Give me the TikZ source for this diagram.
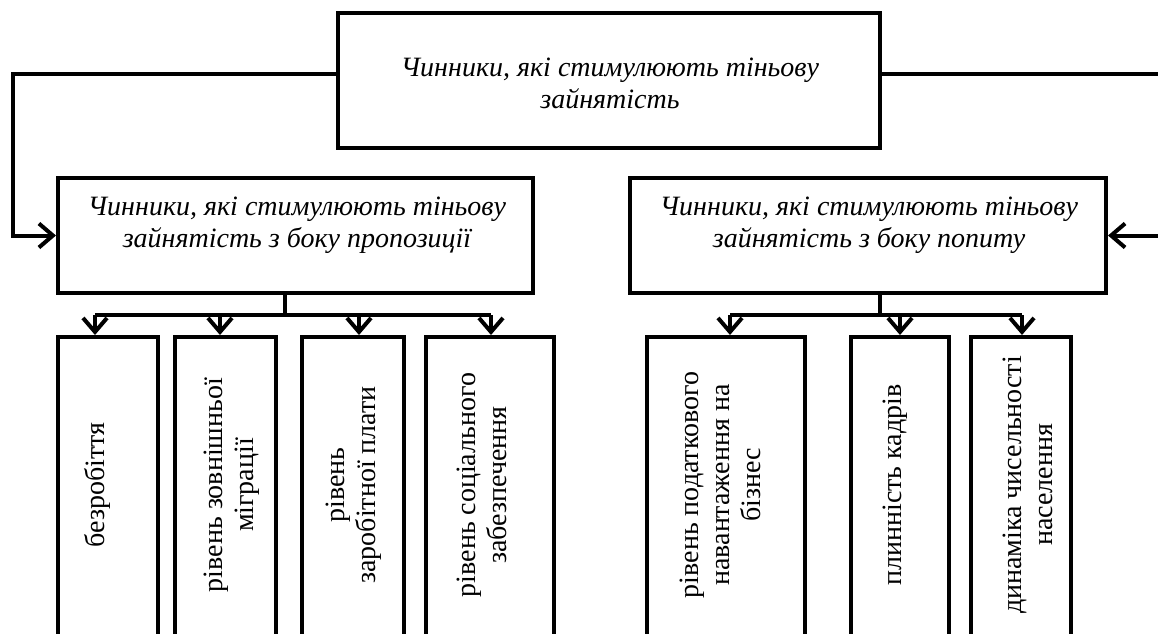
\documentclass[tikz,border=0pt]{standalone}
\usepackage{fontspec}
\setmainfont{Liberation Serif}
\usetikzlibrary{arrows.meta,calc}
\begin{document}
\begin{tikzpicture}[x=1pt,y=-1pt, line width=4pt,
  box/.style={draw, rectangle, inner sep=0pt, line width=4pt},
  lbl/.style={font=\fontsize{28}{31}\selectfont, align=center, inner sep=0pt},
  ilbl/.style={align=center, inner sep=0pt, font=\fontsize{28}{32}\selectfont\itshape},
  vlbl/.style={lbl, rotate=90},
  arr/.style={-{Straight Barb[length=14pt,width=24pt]}}]
\useasboundingbox (0,0) rectangle (1158,633);
\clip (0,0) rectangle (1158,633);
% boxes
\node[box, minimum width=542pt, minimum height=135pt] (top) at (609,80.5) {};
\node[box, minimum width=475pt, minimum height=115pt] (mL) at (295.5,235.5) {};
\node[box, minimum width=476pt, minimum height=115pt] (mR) at (868,235.5) {};
\node[box, minimum width=100pt, minimum height=308pt] (b1) at (108,491) {};
\node[box, minimum width=101pt, minimum height=308pt] (b2) at (225.5,491) {};
\node[box, minimum width=102pt, minimum height=308pt] (b3) at (353,491) {};
\node[box, minimum width=128pt, minimum height=308pt] (b4) at (490,491) {};
\node[box, minimum width=158pt, minimum height=308pt] (b5) at (726,491) {};
\node[box, minimum width=98pt, minimum height=308pt] (b6) at (900,491) {};
\node[box, minimum width=100pt, minimum height=308pt] (b7) at (1021,491) {};
% texts
\node[ilbl] (ttop) at (610,83) {Чинники, які стимулюють тіньову\\зайнятість};
\node[ilbl] (tmL) at (297,225) {Чинники, які стимулюють тіньову\\зайнятість з боку пропозиції};
\node[ilbl] (tmR) at (869,225) {Чинники, які стимулюють тіньову\\зайнятість з боку попиту};
\node[vlbl] (t1) at (97,485) {безробіття};
\node[vlbl] (t2) at (232,485) {рівень зовнішньої\\міграції};
\node[vlbl] (t3) at (354,485) {рівень\\заробітної плати};
\node[vlbl] (t4) at (482,485) {рівень соціального\\забезпечення};
\node[vlbl] (t5) at (720,485) {рівень податкового\\навантаження на\\бізнес};
\node[vlbl] (t6) at (895,485) {плинність кадрів};
\node[vlbl] (t7) at (1028,485) {динаміка чисельності\\населення};
% side connectors
\coordinate (lc) at (13,74);
\coordinate (rc) at (1166,74);
\draw[arr] (top.west |- lc) -- (lc) |- (mL.west);
\draw[arr] (top.east |- rc) -- (rc) |- (mR.east);
% left bus
\coordinate (busL) at (285,315);
\coordinate (a1) at (95,315);
\coordinate (a2) at (220,315);
\coordinate (a3) at (359,315);
\coordinate (a4) at (491,315);
\draw (mL.south -| busL) -- (busL);
\draw (a1) -- (a4);
\draw[arr] (a1) -- (a1 |- b1.north);
\draw[arr] (a2) -- (a2 |- b2.north);
\draw[arr] (a3) -- (a3 |- b3.north);
\draw[arr] (a4) -- (a4 |- b4.north);
% right bus
\coordinate (busR) at (880,315);
\coordinate (a5) at (730,315);
\coordinate (a6) at (900,315);
\coordinate (a7) at (1022,315);
\draw (mR.south -| busR) -- (busR);
\draw (a5) -- (a7);
\draw[arr] (a5) -- (a5 |- b5.north);
\draw[arr] (a6) -- (a6 |- b6.north);
\draw[arr] (a7) -- (a7 |- b7.north);
\end{tikzpicture}
\end{document}
